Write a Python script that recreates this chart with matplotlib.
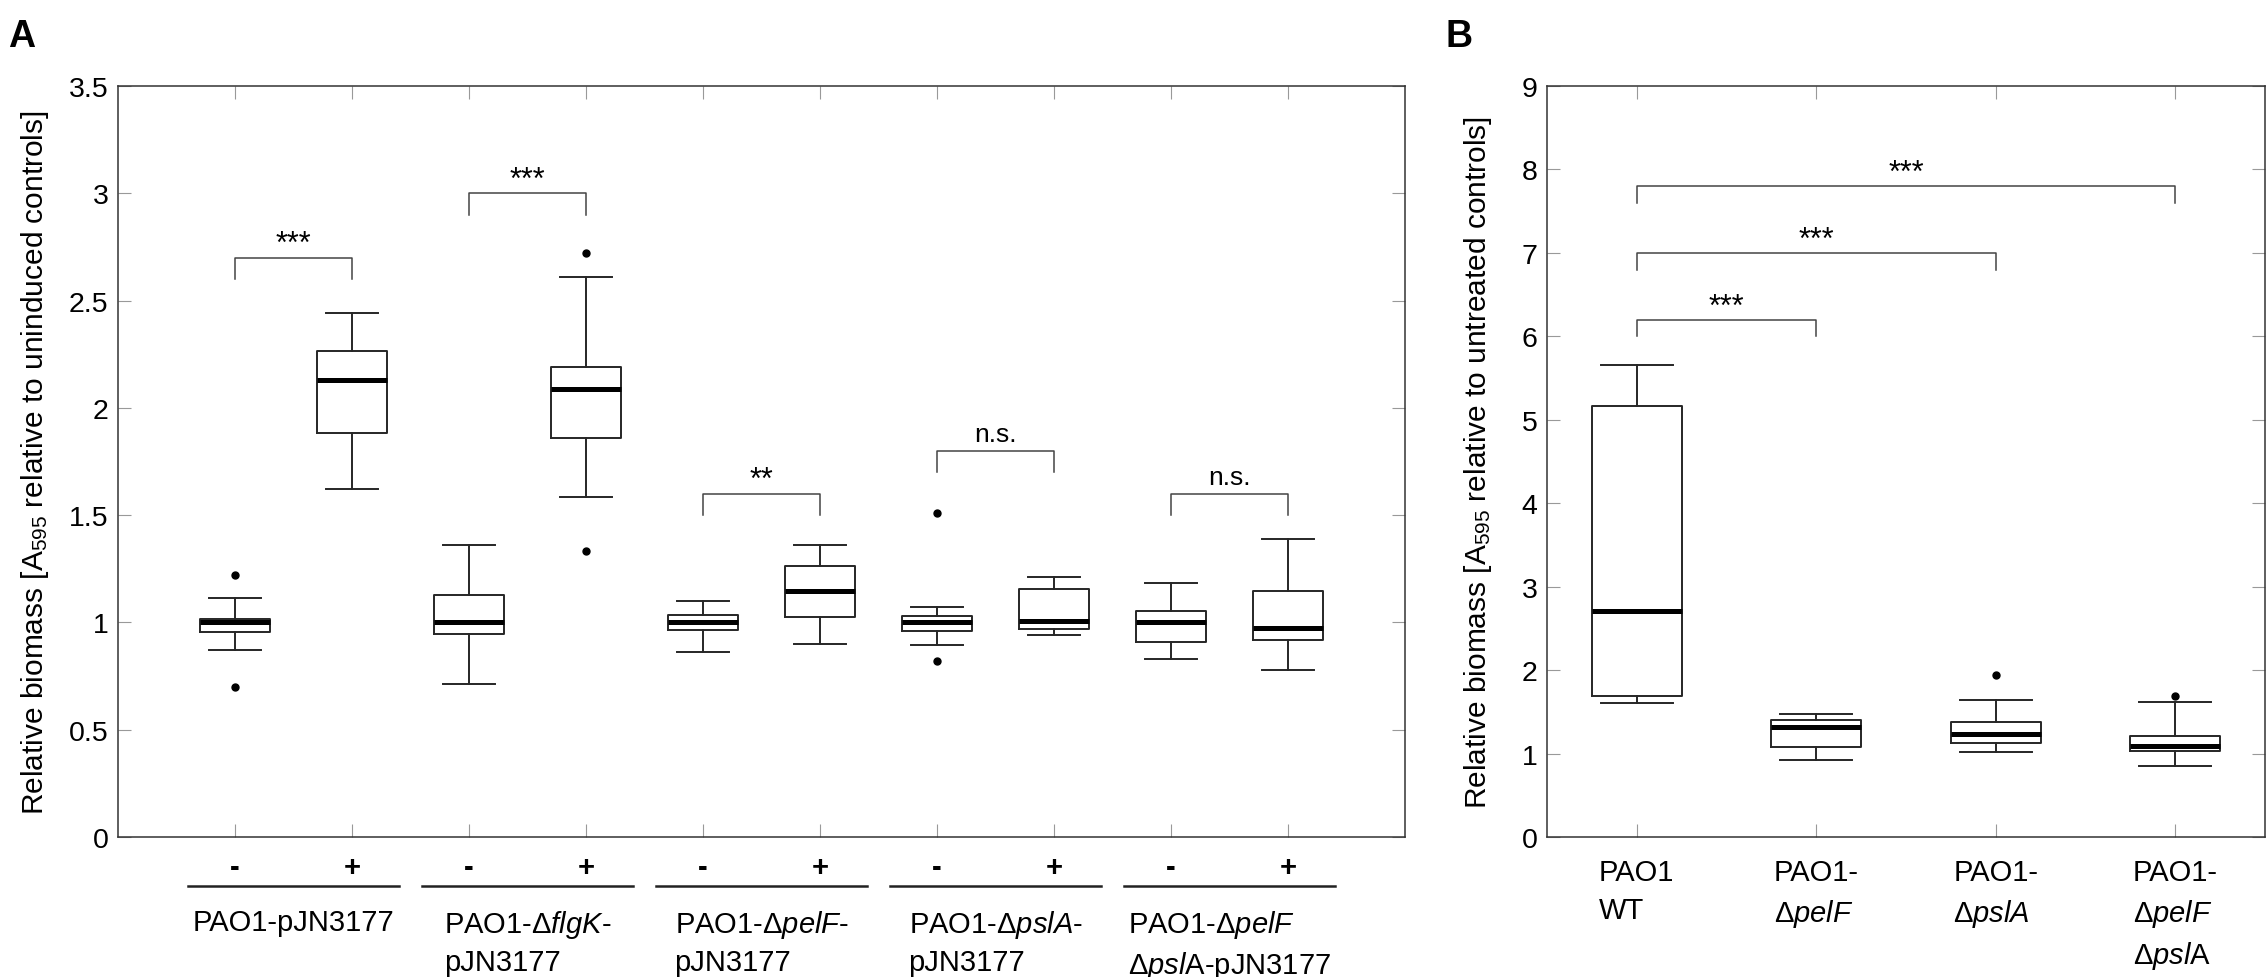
import numpy as np
import matplotlib.pyplot as plt

plt.rcParams['font.family'] = ['Liberation Sans', 'DejaVu Sans']
plt.rcParams['mathtext.fontset'] = 'custom'
plt.rcParams['mathtext.rm'] = 'Liberation Sans'
plt.rcParams['mathtext.it'] = 'Liberation Sans:italic'
plt.rcParams['mathtext.bf'] = 'Liberation Sans:bold'

# ---- panel A: strains with pJN3177, uninduced (-) / induced (+)
a_groups = ['PAO1-pJN3177',
            'PAO1-Δ$\\mathit{flgK}$-\npJN3177',
            'PAO1-Δ$\\mathit{pelF}$-\npJN3177',
            'PAO1-Δ$\\mathit{pslA}$-\npJN3177',
            'PAO1-Δ$\\mathit{pelF}$\nΔ$\\mathit{psl}$A-pJN3177']
a_signs = ['-', '+'] * 5
a_whislo = [0.87, 1.62, 0.715, 1.585, 0.86, 0.90, 0.895, 0.94, 0.83, 0.78]
a_q1 = [0.955, 1.885, 0.945, 1.858, 0.965, 1.027, 0.958, 0.968, 0.907, 0.917]
a_med = [1.0, 2.13, 1.0, 2.088, 1.0, 1.148, 1.0, 1.005, 1.0, 0.975]
a_q3 = [1.015, 2.265, 1.128, 2.19, 1.035, 1.265, 1.03, 1.155, 1.055, 1.145]
a_whishi = [1.115, 2.44, 1.362, 2.61, 1.10, 1.362, 1.072, 1.213, 1.185, 1.387]
a_fliers = [[1.22, 0.70], [], [], [2.72, 1.335], [], [], [1.51, 0.82], [], [], []]
a_sig = ['***', '***', '**', 'n.s.', 'n.s.']
a_sig_y = [2.70, 3.00, 1.60, 1.80, 1.60]

# ---- panel B: deletion mutants vs WT
b_labels = ['PAO1\nWT',
            'PAO1-\nΔ$\\mathit{pelF}$',
            'PAO1-\nΔ$\\mathit{pslA}$',
            'PAO1-\nΔ$\\mathit{pelF}$\nΔ$\\mathit{psl}$A']
b_whislo = [1.60, 0.92, 1.02, 0.85]
b_q1 = [1.69, 1.075, 1.123, 1.035]
b_med = [2.71, 1.32, 1.23, 1.095]
b_q3 = [5.16, 1.405, 1.382, 1.215]
b_whishi = [5.66, 1.48, 1.64, 1.615]
b_fliers = [[], [], [1.94], [1.69]]
b_sig_to = [2, 3, 4]
b_sig_y = [6.2, 7.0, 7.8]

W, H = 2268, 978
fig = plt.figure(figsize=(W / 100, H / 100), dpi=100)
axA = fig.add_axes([118 / W, 140 / H, 1287 / W, 751 / H])
axB = fig.add_axes([1547 / W, 140 / H, 718 / W, 751 / H])

edge = '#262626'
box_kw = dict(boxprops=dict(color=edge, lw=1.4),
              whiskerprops=dict(color=edge, lw=1.4),
              capprops=dict(color=edge, lw=1.4),
              medianprops=dict(color='black', lw=3.6, solid_capstyle='butt'),
              flierprops=dict(marker='o', markerfacecolor='black',
                              markeredgecolor='black', markersize=5))


def make_stats(lo, q1, med, q3, hi, fl):
    return [dict(whislo=a, q1=b, med=c, q3=d, whishi=e, fliers=f)
            for a, b, c, d, e, f in zip(lo, q1, med, q3, hi, fl)]


def style(ax):
    for s in ax.spines.values():
        s.set_color('#333333')
        s.set_linewidth(1.1)
    ax.tick_params(direction='in', top=True, right=True, length=9.5,
                   width=0.8, color='#999999', labelsize=20.5, pad=7)


def bracket(ax, x1, x2, y, leg, txt, dy, size):
    ax.plot([x1, x1, x2, x2], [y - leg, y, y, y - leg], color='#444444', lw=1.1)
    ax.text((x1 + x2) / 2, y + dy, txt, ha='center', va='baseline', fontsize=size)


# panel A
a_pos = np.arange(1, 11)
axA.bxp(make_stats(a_whislo, a_q1, a_med, a_q3, a_whishi, a_fliers),
        positions=a_pos, widths=0.6, capwidths=0.45, **box_kw)
axA.set_xlim(0, 11)
axA.set_ylim(0, 3.5)
yt = np.arange(0, 3.51, 0.5)
axA.set_yticks(yt)
axA.set_yticklabels(['%g' % v for v in yt])
axA.set_xticks(a_pos)
axA.set_xticklabels([])
style(axA)
tr = axA.get_xaxis_transform()
for p, s in zip(a_pos, a_signs):
    axA.text(p, -38 / 751, s, transform=tr, ha='center', va='baseline',
             fontsize=21, fontweight='bold', clip_on=False)
for i, g in enumerate(a_groups):
    axA.plot([2 * i + 0.6, 2 * i + 2.4], [-49 / 751] * 2, transform=tr,
             color='#222222', lw=1.8, clip_on=False)
    axA.text(2 * i + 1.5, -71 / 751, g, transform=tr, ha='center', va='top',
             multialignment='left', fontsize=21, linespacing=1.36, clip_on=False)
for i, (s, y) in enumerate(zip(a_sig, a_sig_y)):
    if s == 'n.s.':
        bracket(axA, 2 * i + 1, 2 * i + 2, y, 0.1, s, 0.045, 19)
    else:
        bracket(axA, 2 * i + 1, 2 * i + 2, y, 0.1, s, 0.025, 22)
axA.set_ylabel('Relative biomass [A$_{595}$ relative to uninduced controls]',
               fontsize=21.5)
axA.yaxis.set_label_coords(-0.052, 0.5)

# panel B
b_pos = np.arange(1, 5)
axB.bxp(make_stats(b_whislo, b_q1, b_med, b_q3, b_whishi, b_fliers),
        positions=b_pos, widths=0.5, capwidths=0.4, **box_kw)
axB.set_xlim(0.5, 4.5)
axB.set_ylim(0, 9)
axB.set_yticks(range(10))
axB.set_xticks(b_pos)
style(axB)
axB.set_xticklabels(b_labels, multialignment='left', linespacing=1.45)
axB.tick_params(axis='x', pad=15, labelsize=21)
for t, y in zip(b_sig_to, b_sig_y):
    bracket(axB, 1, t, y, 0.2, '***', 0.06, 22)
axB.set_ylabel('Relative biomass [A$_{595}$ relative to untreated controls]',
               fontsize=21.5)
axB.yaxis.set_label_coords(-0.074, 0.5)

fig.text(8 / W, 1 - 47 / H, 'A', fontsize=27, fontweight='bold', va='baseline')
fig.text(1445 / W, 1 - 47 / H, 'B', fontsize=27, fontweight='bold', va='baseline')

fig.savefig('out.png', dpi=100)
